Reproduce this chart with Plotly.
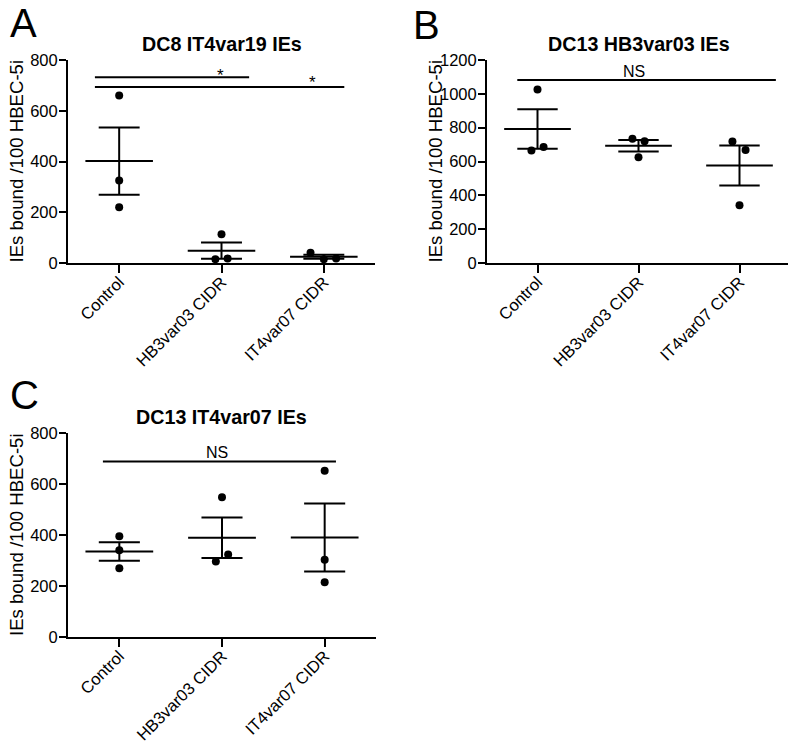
import numpy as np
import plotly.graph_objects as go

categories = ["Control", "HB3var03 CIDR", "IT4var07 CIDR"]
y_title = "IEs bound /100 HBEC-5i"

# Panel A: DC8 IT4var19 IEs
a_title = "DC8 IT4var19 IEs"
a_control = [660, 325, 220]
a_hb3 = [113, 15, 18]
a_it4 = [40, 15, 18]
a_yticks = [0, 200, 400, 600, 800]

# Panel B: DC13 HB3var03 IEs
b_title = "DC13 HB3var03 IEs"
b_control = [1025, 665, 685]
b_hb3 = [735, 720, 625]
b_it4 = [718, 668, 342]
b_yticks = [0, 200, 400, 600, 800, 1000, 1200]

# Panel C: DC13 IT4var07 IEs
c_title = "DC13 IT4var07 IEs"
c_control = [395, 340, 270]
c_hb3 = [548, 296, 324]
c_it4 = [652, 303, 215]
c_yticks = [0, 200, 400, 600, 800]

# significance bars: (label, bar level, label level)
a_sig = [("*", 732, 740), ("*", 694, 710)]
b_sig = [("NS", 1082, 1135)]
c_sig = [("NS", 688, 724)]

# horizontal dodge of overlapping points (category units)
a_dodge = [[0, 0, 0], [0, -0.06, 0.06], [-0.13, 0, 0.12]]
b_dodge = [[0, -0.06, 0.06], [-0.06, 0.06, 0], [-0.07, 0.06, 0]]
c_dodge = [[0, 0, 0], [0, -0.06, 0.06], [0, 0, 0]]

# The page body has an 8px margin, so the figure is drawn 8px in from the
# window's top-left corner; size it so it fills the 796x741 window exactly.
OFF = 8
W, H = 796 - OFF, 741 - OFF
FONT = "Liberation Sans, Arial, Helvetica, sans-serif"

fig = go.Figure()


def px_x(p):
    return (p - OFF) / W


def px_y(p):
    return 1 - (p - OFF) / H


panels = [
    dict(ax="", groups=[a_control, a_hb3, a_it4], dodge=a_dodge, yticks=a_yticks,
         title=a_title, letter="A", dom_x=(68, 375), dom_y=(60, 263), letter_pos=(8, 22)),
    dict(ax="2", groups=[b_control, b_hb3, b_it4], dodge=b_dodge, yticks=b_yticks,
         title=b_title, letter="B", dom_x=(487, 790), dom_y=(60, 263), letter_pos=(411, 24)),
    dict(ax="3", groups=[c_control, c_hb3, c_it4], dodge=c_dodge, yticks=c_yticks,
         title=c_title, letter="C", dom_x=(68, 376), dom_y=(433, 637), letter_pos=(8, 394)),
]

annotations = []
for p in panels:
    xr = "x" + p["ax"]
    yr = "y" + p["ax"]
    # points
    for i, (vals, dg) in enumerate(zip(p["groups"], p["dodge"])):
        fig.add_trace(go.Scatter(
            x=[i + d for d in dg], y=vals, mode="markers",
            marker=dict(color="black", size=8), xaxis=xr, yaxis=yr,
            showlegend=False, hoverinfo="y"))
    # mean +- SEM
    lx, ly = [], []
    for i, vals in enumerate(p["groups"]):
        v = np.array(vals, dtype=float)
        m = v.mean()
        s = v.std(ddof=1) / np.sqrt(len(v))
        lx += [i - 0.33, i + 0.33, None, i - 0.2, i + 0.2, None,
               i - 0.2, i + 0.2, None, i, i, None]
        ly += [m, m, None, m + s, m + s, None, m - s, m - s, None, m - s, m + s, None]
    fig.add_trace(go.Scatter(x=lx, y=ly, mode="lines",
                             line=dict(color="black", width=2),
                             xaxis=xr, yaxis=yr, showlegend=False, hoverinfo="skip"))

    dx0, dx1 = p["dom_x"]
    dy0, dy1 = p["dom_y"]
    fig.layout["xaxis" + p["ax"]] = dict(
        domain=[px_x(dx0), px_x(dx1)], range=[-0.5, 2.5], anchor=yr, automargin=False,
        tickmode="array", tickvals=[0, 1, 2], ticktext=categories,
        tickangle=-45, ticks="outside", ticklen=8, tickwidth=2, tickcolor="black",
        ticklabelstandoff=-7,
        showline=True, linecolor="black", linewidth=2, showgrid=False, zeroline=False,
        tickfont=dict(family=FONT, size=16.6, color="black"), fixedrange=True)
    fig.layout["yaxis" + p["ax"]] = dict(
        domain=[px_y(dy1), px_y(dy0)], range=[0, p["yticks"][-1]], anchor=xr,
        automargin=False, tickmode="array", tickvals=p["yticks"],
        ticks="outside", ticklen=7, tickwidth=2, tickcolor="black",
        ticklabelstandoff=-2,
        showline=True, linecolor="black", linewidth=2, showgrid=False, zeroline=False,
        tickfont=dict(family=FONT, size=16.5, color="black"), fixedrange=True)

    # title
    annotations.append(dict(text="<b>" + p["title"] + "</b>", xref="paper", yref="paper",
                            x=px_x((dx0 + dx1) / 2), y=px_y(dy0 - 16), xanchor="center",
                            yanchor="middle", showarrow=False,
                            font=dict(family=FONT, size=19.7, color="black")))
    # y-axis title
    annotations.append(dict(text=y_title, xref="paper", yref="paper",
                            x=px_x(dx0 - 52), y=px_y((dy0 + dy1) / 2), textangle=-90,
                            xanchor="center", yanchor="middle", showarrow=False,
                            font=dict(family=FONT, size=18.6, color="black")))
    # panel letter
    lx0, ly0 = p["letter_pos"]
    annotations.append(dict(text=p["letter"], xref="paper", yref="paper",
                            x=px_x(lx0), y=px_y(ly0 + 1), xanchor="left", yanchor="middle",
                            showarrow=False,
                            font=dict(family=FONT, size=40, color="black")))

# significance bars
sig_specs = [
    ("", a_sig[0], -0.237, 1.27, 0.99),
    ("", a_sig[1], -0.237, 2.2, 1.89),
    ("2", b_sig[0], -0.2, 2.36, 0.955),
    ("3", c_sig[0], -0.16, 2.11, 0.95),
]
for ax, (label, lvl, tlvl), x0, x1, xt in sig_specs:
    fig.add_trace(go.Scatter(x=[x0, x1], y=[lvl, lvl], mode="lines",
                             line=dict(color="black", width=2),
                             xaxis="x" + ax, yaxis="y" + ax, showlegend=False,
                             hoverinfo="skip"))
    annotations.append(dict(text=label, xref="x" + ax, yref="y" + ax, x=xt, y=tlvl,
                            xanchor="center", yanchor="middle", showarrow=False,
                            font=dict(family=FONT, size=16 if label == "NS" else 17,
                                      color="black")))

fig.update_layout(
    width=W, height=H, margin=dict(l=0, r=0, t=0, b=0, pad=0),
    paper_bgcolor="white", plot_bgcolor="white",
    annotations=annotations, showlegend=False,
)

fig.write_html("out.html")
